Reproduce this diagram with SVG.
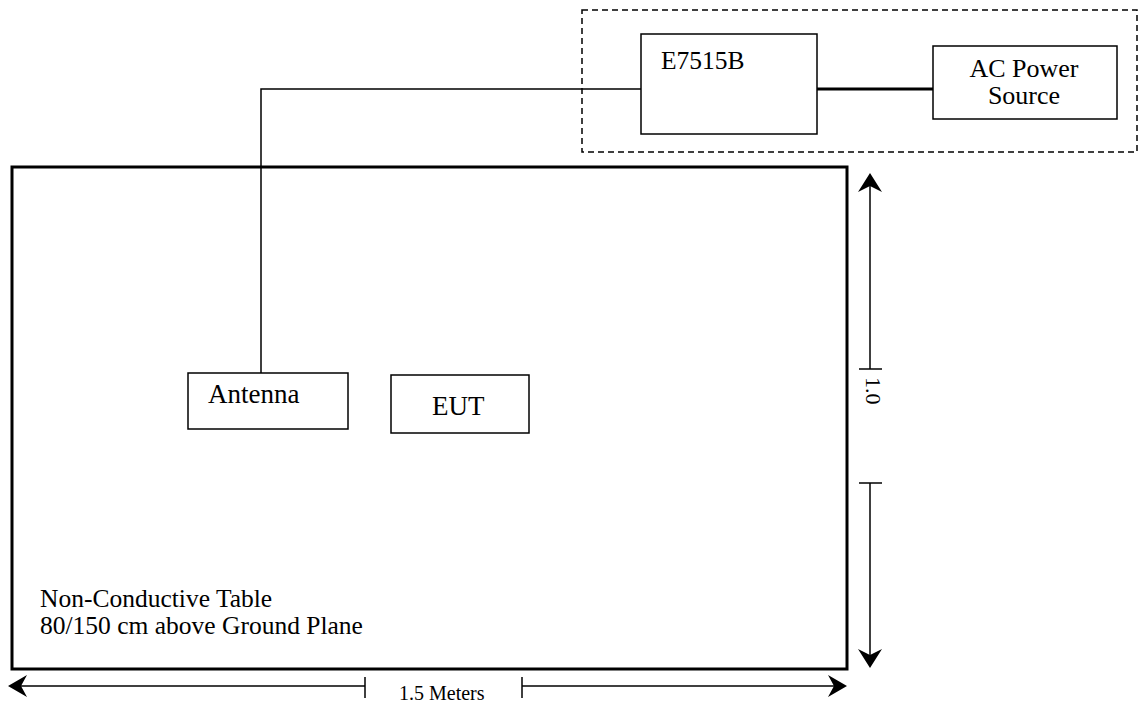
<svg xmlns="http://www.w3.org/2000/svg" width="1142" height="704" viewBox="0 0 1142 704">
<style>
  .box { fill: #fff; stroke: #000; stroke-width: 1.5; }
  .t { font-family: "Liberation Serif", "Times New Roman", serif; fill: #000; }
  .ln { stroke: #000; fill: none; }
  .ah { fill: #000; stroke: none; }
</style>
<rect width="1142" height="704" fill="#fff"/>
<g id="table">
  <rect x="12" y="167" width="835" height="502" fill="none" stroke="#000" stroke-width="3"/>
  <text class="t" x="40" y="607" font-size="25.5">Non-Conductive Table</text>
  <text class="t" x="40" y="634" font-size="25.5">80/150 cm above Ground Plane</text>
</g>
<g id="group-box">
  <rect x="582" y="10" width="555" height="142" fill="none" stroke="#000" stroke-width="1.5" stroke-dasharray="6,4"/>
</g>
<g id="connectors">
  <polyline class="ln" stroke-width="1.5" points="261,373 261,89 641,89"/>
  <line class="ln" stroke-width="3" x1="817" y1="89" x2="933" y2="89"/>
</g>
<g id="e7515b">
  <rect class="box" x="641" y="34" width="176" height="100"/>
  <text class="t" x="661" y="69" font-size="25.5">E7515B</text>
</g>
<g id="ac-power">
  <rect class="box" x="933" y="46" width="184" height="73"/>
  <text class="t" x="1024" y="77" font-size="26" text-anchor="middle">AC Power</text>
  <text class="t" x="1024" y="104" font-size="26" text-anchor="middle">Source</text>
</g>
<g id="antenna">
  <rect class="box" x="188" y="373" width="160" height="56"/>
  <text class="t" x="208" y="403" font-size="27">Antenna</text>
</g>
<g id="eut">
  <rect class="box" x="391" y="375" width="138" height="58"/>
  <text class="t" x="432" y="415" font-size="27">EUT</text>
</g>
<g id="dim-height">
  <line class="ln" stroke-width="1.5" x1="870" y1="180" x2="870" y2="369"/>
  <line class="ln" stroke-width="1.5" x1="859" y1="369" x2="882" y2="369"/>
  <line class="ln" stroke-width="1.5" x1="859" y1="483" x2="882" y2="483"/>
  <line class="ln" stroke-width="1.5" x1="870" y1="483" x2="870" y2="660"/>
  <polygon class="ah" points="870,173 882,192 870,186 858,192"/>
  <polygon class="ah" points="870,668 882,649 870,655 858,649"/>
  <text class="t" font-size="22" transform="translate(866,377) rotate(90)">1.0</text>
</g>
<g id="dim-width">
  <line class="ln" stroke-width="1.5" x1="15" y1="686" x2="365" y2="686"/>
  <line class="ln" stroke-width="1.5" x1="365" y1="677" x2="365" y2="698"/>
  <line class="ln" stroke-width="1.5" x1="522" y1="677" x2="522" y2="698"/>
  <line class="ln" stroke-width="1.5" x1="522" y1="686" x2="840" y2="686"/>
  <polygon class="ah" points="8,686 27,675 21,686 27,697"/>
  <polygon class="ah" points="847,686 828,675 834,686 828,697"/>
  <text class="t" x="399" y="700" font-size="20">1.5 Meters</text>
</g>
</svg>
